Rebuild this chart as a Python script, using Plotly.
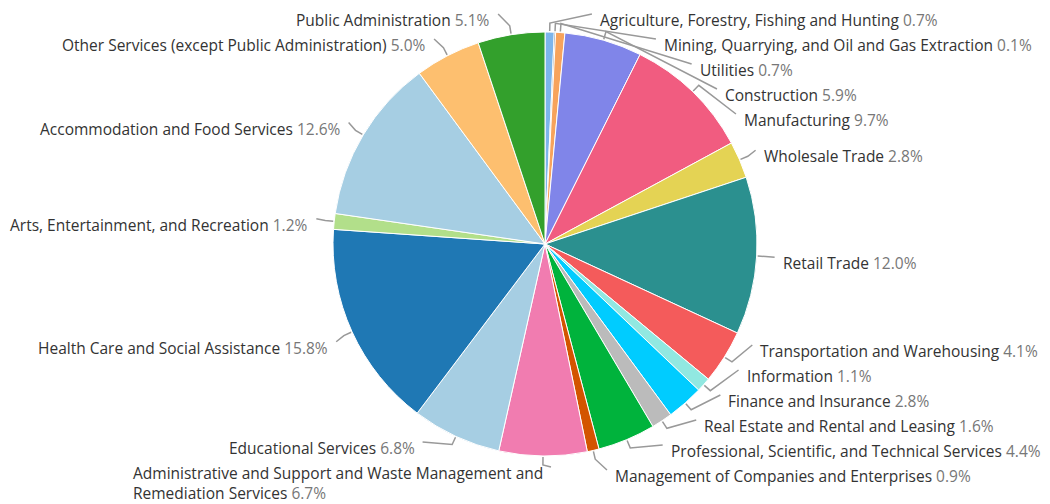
import math
import textwrap
import plotly.graph_objects as go

industries = [
    "Agriculture, Forestry, Fishing and Hunting",
    "Mining, Quarrying, and Oil and Gas Extraction",
    "Utilities",
    "Construction",
    "Manufacturing",
    "Wholesale Trade",
    "Retail Trade",
    "Transportation and Warehousing",
    "Information",
    "Finance and Insurance",
    "Real Estate and Rental and Leasing",
    "Professional, Scientific, and Technical Services",
    "Management of Companies and Enterprises",
    "Administrative and Support and Waste Management and Remediation Services",
    "Educational Services",
    "Health Care and Social Assistance",
    "Arts, Entertainment, and Recreation",
    "Accommodation and Food Services",
    "Other Services (except Public Administration)",
    "Public Administration",
]
shares = [0.7, 0.1, 0.7, 5.9, 9.7, 2.8, 12.0, 4.1, 1.1, 2.8,
          1.6, 4.4, 0.9, 6.7, 6.8, 15.8, 1.2, 12.6, 5.0, 5.1]
colors = ["#7cb5ec", "#434348", "#f7a35c", "#8085e9", "#f15c80", "#e4d354",
          "#2b908f", "#f45b5b", "#91e8e1", "#00ccff", "#bbbbbb", "#00b33c",
          "#d35400", "#f17cb0", "#a6cee3", "#1f78b4", "#b2df8a", "#a6cee3",
          "#fdbf6f", "#33a02c"]

# geometry in page pixels; the page body adds an 8px margin around the figure
PAGE_W, PAGE_H, OFF = 1050, 504, 8
W, H = PAGE_W - OFF, PAGE_H - OFF
CX, CY, R_PIE = 545, 244, 212
R_LAB, LAB_DY = 236, 6      # circle the labels sit on
LINE_H, SEP = 20, 25
TOP, BOTTOM = 20, 476


def px(x):
    return (x - OFF) / W


def py(y):
    return 1 - (y - OFF) / H


# label placement: start on a circle outside the pie, then de-overlap per side
total = sum(shares)
labels = []
cum = 0.0
for name, v in zip(industries, shares):
    mid = (cum + v / 2) / total * 2 * math.pi
    cum += v
    labels.append(dict(
        lines=textwrap.wrap(name, 52), value=v, mid=mid,
        side=1 if math.sin(mid) >= 0 else -1,
        y=CY + LAB_DY - R_LAB * math.cos(mid),
    ))

for side in (1, -1):
    group = sorted([l for l in labels if l["side"] == side], key=lambda l: l["y"])
    prev = None
    for l in group:
        lo = TOP if prev is None else prev["y"] + SEP + (len(prev["lines"]) - 1) * LINE_H
        l["y"] = max(l["y"], lo)
        prev = l
    nxt = None
    for l in reversed(group):
        extra = (len(l["lines"]) - 1) * LINE_H
        hi = min(BOTTOM, PAGE_H - 11 - extra)
        if nxt is not None:
            hi = min(hi, nxt["y"] - SEP - extra)
        l["y"] = min(l["y"], hi)
        nxt = l

fig = go.Figure(go.Pie(
    labels=industries,
    values=shares,
    sort=False,
    direction="clockwise",
    rotation=0,
    marker=dict(colors=colors, line=dict(color="white", width=1)),
    textinfo="none",
    hoverinfo="label+percent",
    domain=dict(x=[px(CX - R_PIE), px(CX + R_PIE)],
                y=[py(CY + R_PIE), py(CY - R_PIE)]),
    showlegend=False,
))

annotations = []
shapes = []
for l in labels:
    s = l["side"]
    extra = (len(l["lines"]) - 1) * LINE_H
    # wrapped labels below the centre hug the circle with their last line
    y_fit = l["y"] + extra if l["y"] > CY else l["y"]
    dy = y_fit - (CY + LAB_DY)
    lx = CX + s * math.sqrt(max(R_LAB ** 2 - dy ** 2, 0))
    text = "<br>".join(l["lines"]) + " <span style='color:#777'>%.1f%%</span>" % l["value"]
    annotations.append(dict(
        x=px(lx), y=py(l["y"] + extra / 2),
        xref="paper", yref="paper", text=text, showarrow=False,
        xanchor="left" if s > 0 else "right", yanchor="middle", align="left",
        font=dict(family="Open Sans", size=15.5, color="#333"),
    ))
    sa, ca = math.sin(l["mid"]), math.cos(l["mid"])
    ax, ay = CX + (R_PIE + 1) * sa, CY - (R_PIE + 1) * ca
    bx, by = CX + (R_PIE + 9) * sa, CY - (R_PIE + 9) * ca
    ex, ey = lx - s * 6, l["y"] - 6
    shapes.append(dict(
        type="path", xref="paper", yref="paper",
        path="M %f,%f L %f,%f L %f,%f" % (px(ax), py(ay), px(bx), py(by), px(ex), py(ey)),
        line=dict(color="#999", width=1.5),
    ))

fig.update_layout(
    width=W, height=H,
    margin=dict(l=0, r=0, t=0, b=0),
    paper_bgcolor="white",
    plot_bgcolor="white",
    annotations=annotations,
    shapes=shapes,
)

fig.write_html("out.html")
